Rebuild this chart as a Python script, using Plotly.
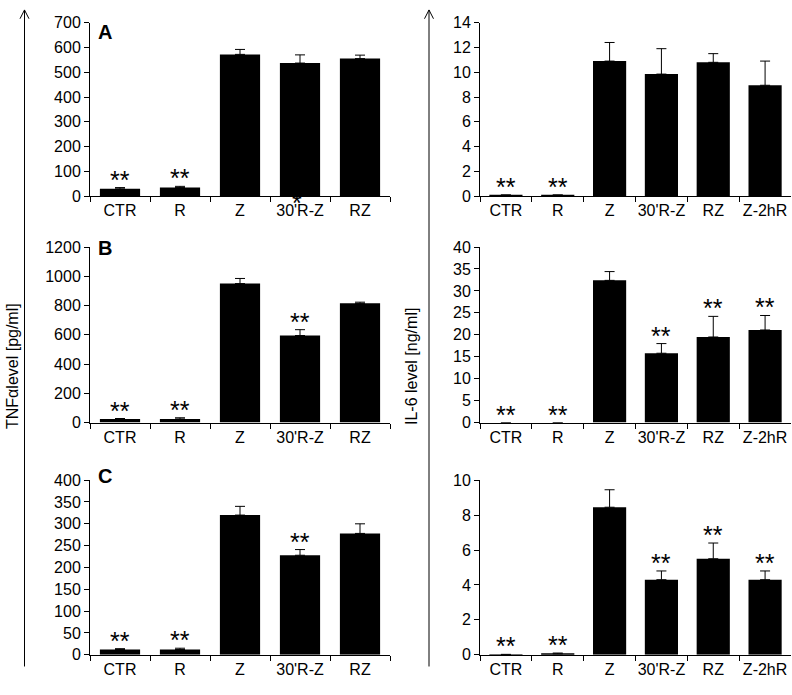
import plotly.graph_objects as go

# Datos
CATEGORIAS_TNF = ["CTR", "R", "Z", "30'R-Z", "RZ"]
CATEGORIAS_IL6 = ["CTR", "R", "Z", "30'R-Z", "RZ", "Z-2hR"]

TNF_A = [30, 35, 572, 537, 555]
TNF_A_ERR = [5, 5, 20, 33, 14]
TNF_A_SIG = ["**", "**", "", "", ""]

TNF_B = [25, 25, 950, 595, 815]
TNF_B_ERR = [3, 8, 35, 40, 8]
TNF_B_SIG = ["**", "**", "", "**", ""]

TNF_C = [12, 12, 320, 228, 278]
TNF_C_ERR = [2, 3, 20, 13, 22]
TNF_C_SIG = ["**", "**", "", "**", ""]

IL6_A = [0.1, 0.1, 10.9, 9.85, 10.8, 8.95]
IL6_A_ERR = [0, 0, 1.5, 2.05, 0.7, 1.95]
IL6_A_SIG = ["**", "**", "", "", "", ""]

IL6_B = [0, 0, 32.4, 15.8, 19.5, 21.1]
IL6_B_ERR = [0, 0, 2.0, 2.2, 4.7, 3.3]
IL6_B_SIG = ["**", "**", "", "**", "**", "**"]

IL6_C = [0.02, 0.05, 8.45, 4.3, 5.5, 4.3]
IL6_C_ERR = [0, 0.05, 1.0, 0.5, 0.9, 0.5]
IL6_C_SIG = ["**", "**", "", "**", "**", "**"]

RANGOS_TNF = [700, 1200, 400]
PASOS_TNF = [100, 200, 50]
RANGOS_IL6 = [14, 40, 10]
PASOS_IL6 = [2, 5, 2]
LETRAS = ["A", "B", "C"]

W, H = 792, 695
FUENTE = "Liberation Sans, Arial, sans-serif"
TAM_TICK = 16
TAM_AST = 25


def px_x(v):
    return v / W


def px_y(v):
    return 1 - v / H


DOMINIO_IZQ = [px_x(90), px_x(390)]
DOMINIO_DER = [px_x(480), px_x(791)]
DOMINIOS_Y = [
    [px_y(193), px_y(15)],
    [px_y(425), px_y(245)],
    [px_y(663), px_y(484)],
]

paneles = [
    (CATEGORIAS_TNF, TNF_A, TNF_A_ERR, TNF_A_SIG, RANGOS_TNF[0], PASOS_TNF[0], DOMINIO_IZQ, DOMINIOS_Y[0], 0.33),
    (CATEGORIAS_IL6, IL6_A, IL6_A_ERR, IL6_A_SIG, RANGOS_IL6[0], PASOS_IL6[0], DOMINIO_DER, DOMINIOS_Y[0], 0.36),
    (CATEGORIAS_TNF, TNF_B, TNF_B_ERR, TNF_B_SIG, RANGOS_TNF[1], PASOS_TNF[1], DOMINIO_IZQ, DOMINIOS_Y[1], 0.33),
    (CATEGORIAS_IL6, IL6_B, IL6_B_ERR, IL6_B_SIG, RANGOS_IL6[1], PASOS_IL6[1], DOMINIO_DER, DOMINIOS_Y[1], 0.36),
    (CATEGORIAS_TNF, TNF_C, TNF_C_ERR, TNF_C_SIG, RANGOS_TNF[2], PASOS_TNF[2], DOMINIO_IZQ, DOMINIOS_Y[2], 0.33),
    (CATEGORIAS_IL6, IL6_C, IL6_C_ERR, IL6_C_SIG, RANGOS_IL6[2], PASOS_IL6[2], DOMINIO_DER, DOMINIOS_Y[2], 0.36),
]

fig = go.Figure()
anotaciones = []
layout_ejes = {}

for i, (cats, vals, errs, sigs, tope, paso, dom_x, dom_y, hueco) in enumerate(paneles):
    n = i + 1
    sufijo = "" if n == 1 else str(n)
    fig.add_trace(go.Bar(
        x=cats,
        y=vals,
        xaxis="x" + sufijo,
        yaxis="y" + sufijo,
        marker=dict(color="black", line=dict(width=0)),
        width=1 - hueco,
        error_y=dict(
            type="data",
            array=errs,
            arrayminus=[0] * len(errs),
            symmetric=False,
            color="black",
            thickness=1,
            width=5),
        showlegend=False,
        hoverinfo="skip"))
    layout_ejes["xaxis" + sufijo] = dict(
        domain=dom_x,
        anchor="y" + sufijo,
        type="category",
        showline=True,
        linecolor="black",
        linewidth=1,
        ticks="outside",
        tickson="boundaries",
        ticklen=5,
        tickcolor="black",
        tickangle=0,
        showgrid=False,
        tickfont=dict(size=TAM_TICK, color="black", family=FUENTE),
        fixedrange=True)
    layout_ejes["yaxis" + sufijo] = dict(
        domain=dom_y,
        anchor="x" + sufijo,
        range=[0, tope],
        dtick=paso,
        tick0=0,
        showline=True,
        linecolor="black",
        linewidth=1,
        ticks="outside",
        ticklen=5,
        tickcolor="black",
        showgrid=False,
        zeroline=False,
        tickfont=dict(size=TAM_TICK, color="black", family=FUENTE),
        fixedrange=True)
    for c, v, e, s in zip(cats, vals, errs, sigs):
        if s:
            anotaciones.append(dict(
                x=c, y=v + e, xref="x" + sufijo, yref="y" + sufijo,
                text=s, showarrow=False, yanchor="bottom", yshift=-8,
                font=dict(size=TAM_AST, color="black", family=FUENTE)))

# asterisco bajo la barra 30'R-Z del panel A
anotaciones.append(dict(
    x="30'R-Z", y=0, xref="x", yref="y", text="*", showarrow=False,
    yanchor="top", yshift=9, xshift=-3,
    font=dict(size=TAM_AST, color="black", family=FUENTE)))

# letras de panel
for letra, y_px in zip(LETRAS, [25, 246, 480]):
    anotaciones.append(dict(
        x=px_x(96), y=px_y(y_px), xref="paper", yref="paper", text="<b>%s</b>" % letra,
        showarrow=False, xanchor="left", yanchor="middle",
        font=dict(size=20, color="black", family=FUENTE)))

# títulos de eje
anotaciones.append(dict(
    x=px_x(12), y=px_y(367), xref="paper", yref="paper", text="TNFαlevel [pg/ml]",
    textangle=-90, showarrow=False, xanchor="center", yanchor="middle",
    font=dict(size=16, color="black", family=FUENTE)))
anotaciones.append(dict(
    x=px_x(412), y=px_y(368), xref="paper", yref="paper", text="IL-6 level [ng/ml]",
    textangle=-90, showarrow=False, xanchor="center", yanchor="middle",
    font=dict(size=16, color="black", family=FUENTE)))

# flechas verticales
formas = []
for xa in [24.5, 429]:
    x0 = px_x(xa)
    formas.append(dict(type="line", xref="paper", yref="paper",
                       x0=x0, x1=x0, y0=px_y(675), y1=px_y(2),
                       line=dict(color="black", width=1)))
    formas.append(dict(type="path", xref="paper", yref="paper",
                       path="M %f,%f L %f,%f L %f,%f" % (
                           px_x(xa - 4.5), px_y(11), x0, px_y(2), px_x(xa + 4.5), px_y(11)),
                       line=dict(color="black", width=1)))

fig.update_layout(
    width=W,
    height=H,
    margin=dict(l=0, r=0, t=0, b=0),
    paper_bgcolor="white",
    plot_bgcolor="white",
    font=dict(family=FUENTE, color="black"),
    annotations=anotaciones,
    shapes=formas,
    **layout_ejes)

# sin márgenes de página para que la figura ocupe la ventana
fig.write_html(
    "out.html",
    config={"displayModeBar": False},
    post_script="document.body.style.margin='0';"
                "document.body.style.overflow='hidden';")
